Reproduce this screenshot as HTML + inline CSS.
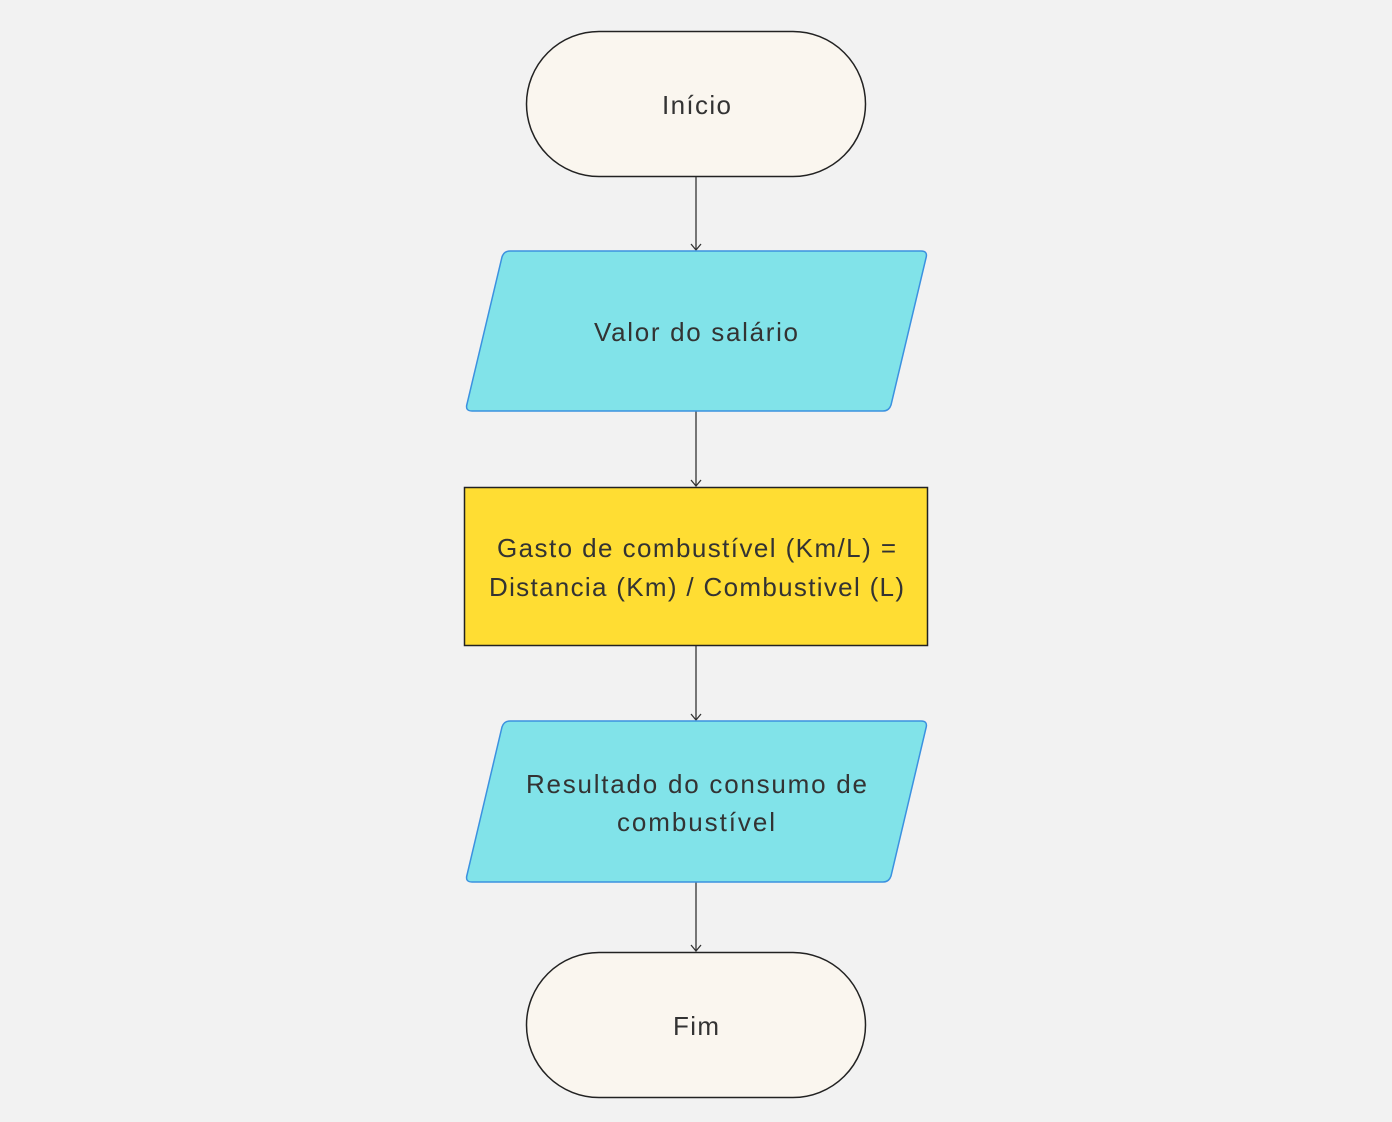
<!DOCTYPE html>
<html><head><meta charset="utf-8"><style>
html,body{margin:0;padding:0;background:#f2f2f2;}
svg{display:block}
text{font-family:"Liberation Sans",sans-serif;font-size:26px;fill:#333;text-anchor:middle}
</style></head><body>
<svg width="1392" height="1122" viewBox="0 0 1392 1122">
<rect x="0" y="0" width="1392" height="1122" fill="#f2f2f2"/>
<rect x="526.5" y="31.5" width="339" height="145" rx="72.5" fill="#faf6ef" stroke="#222" stroke-width="1.5"/>
<text x="696.5" y="114" textLength="69" lengthAdjust="spacing">Início</text>
<g stroke="#333" stroke-width="1.3" fill="none">
<line x1="696" y1="177" x2="696" y2="250"/><polyline points="691,244 696,250 701,244"/>
<line x1="696" y1="411" x2="696" y2="486"/><polyline points="691,480 696,486 701,480"/>
<line x1="696" y1="646" x2="696" y2="720"/><polyline points="691,714 696,720 701,714"/>
<line x1="696" y1="882" x2="696" y2="951"/><polyline points="691,945 696,951 701,945"/>
</g>
<path d="M510,251 L921,251 Q928,251 926,258 L891,405 Q889,411 883,411 L472,411 Q465,411 467,404 L502,257 Q504,251 510,251 Z" fill="#81e3e9" stroke="#3b91e0" stroke-width="1.5"/>
<text x="696" y="341" textLength="204" lengthAdjust="spacing">Valor do salário</text>
<rect x="464.5" y="487.5" width="463" height="158" fill="#ffdd33" stroke="#222" stroke-width="1.5"/>
<text x="696.5" y="557" textLength="399" lengthAdjust="spacing">Gasto de combustível (Km/L) =</text>
<text x="696.5" y="596" textLength="415" lengthAdjust="spacing">Distancia (Km) / Combustivel (L)</text>
<path d="M510,721 L921,721 Q928,721 926,728 L891,876 Q889,882 883,882 L472,882 Q465,882 467,875 L502,727 Q504,721 510,721 Z" fill="#81e3e9" stroke="#3b91e0" stroke-width="1.5"/>
<text x="696.5" y="793" textLength="341" lengthAdjust="spacing">Resultado do consumo de</text>
<text x="696" y="831" textLength="158" lengthAdjust="spacing">combustível</text>
<rect x="526.5" y="952.5" width="339" height="145" rx="72.5" fill="#faf6ef" stroke="#222" stroke-width="1.5"/>
<text x="696" y="1035" textLength="46" lengthAdjust="spacing">Fim</text>
</svg>
</body></html>
